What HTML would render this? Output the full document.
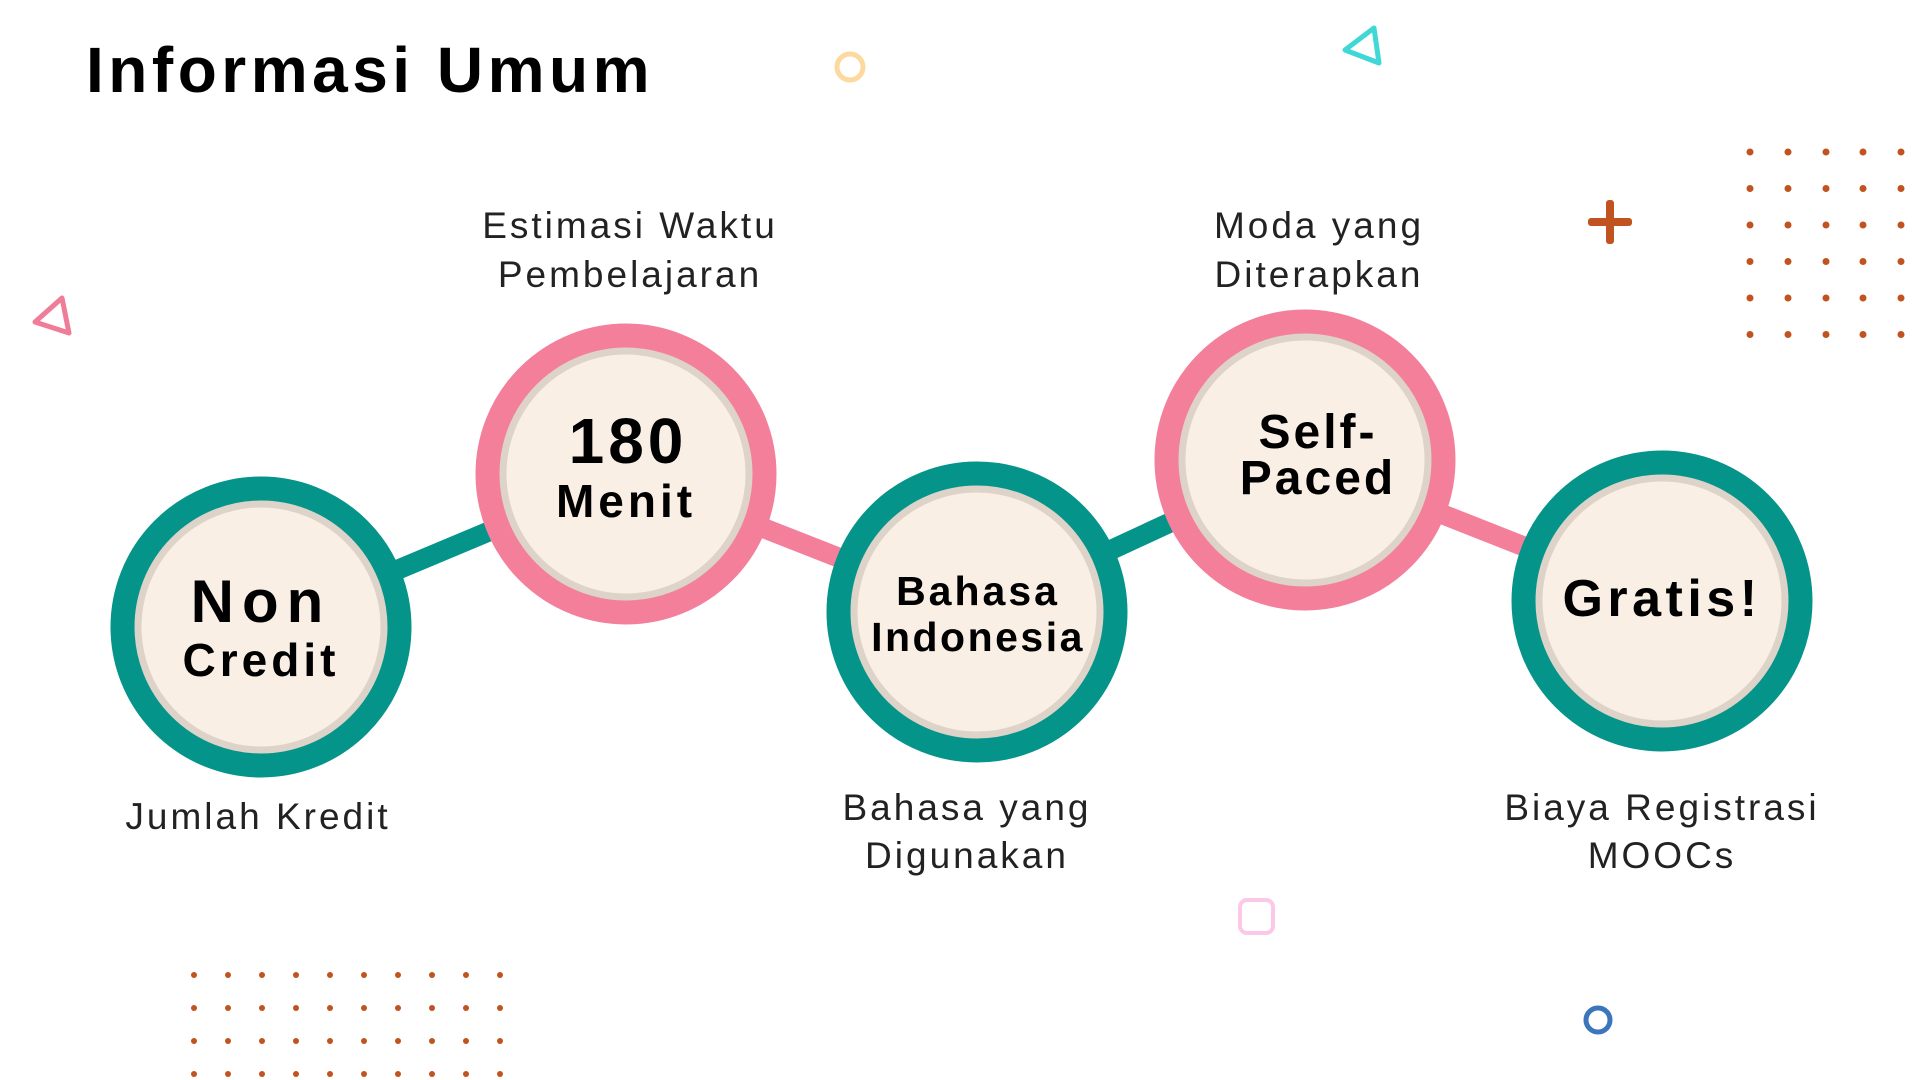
<!DOCTYPE html>
<html><head><meta charset="utf-8"><style>
html,body{margin:0;padding:0;background:#fff;}
svg{display:block}
.t{font-family:"Liberation Sans",sans-serif;}
</style></head><body>
<svg width="1920" height="1080" viewBox="0 0 1920 1080" xmlns="http://www.w3.org/2000/svg">
<rect width="1920" height="1080" fill="#fff"/>
<text x="86" y="92" class="t" font-size="64" font-weight="bold" fill="#000" letter-spacing="4.5">Informasi Umum</text>
<!-- decorations -->
<circle cx="850" cy="67" r="13" fill="none" stroke="#fdd9a0" stroke-width="5"/>
<polygon points="1374,28 1379,63 1345,50" fill="none" stroke="#3fd8d6" stroke-width="5" stroke-linejoin="round"/>
<polygon points="62,298 69,333 35,322" fill="none" stroke="#f07d98" stroke-width="5" stroke-linejoin="round"/>
<rect x="1606" y="200" width="8" height="44" rx="3" fill="#c0531f"/>
<rect x="1588" y="218" width="44" height="8" rx="3" fill="#c0531f"/>
<rect x="1240" y="900" width="33" height="33" rx="7" fill="none" stroke="#fcc8e8" stroke-width="4"/>
<circle cx="1598" cy="1020" r="12" fill="none" stroke="#3b75bb" stroke-width="5"/>
<g fill="#c0531f">
<g id="dr">
<circle cx="1750" cy="152" r="3.5"/><circle cx="1788" cy="152" r="3.5"/><circle cx="1826" cy="152" r="3.5"/><circle cx="1863" cy="152" r="3.5"/><circle cx="1901" cy="152" r="3.5"/>
</g>
<use href="#dr" y="36.5"/><use href="#dr" y="73"/><use href="#dr" y="109.5"/><use href="#dr" y="146"/><use href="#dr" y="182.5"/>
<g id="db">
<circle cx="194" cy="975" r="3"/><circle cx="228" cy="975" r="3"/><circle cx="262" cy="975" r="3"/><circle cx="296" cy="975" r="3"/><circle cx="330" cy="975" r="3"/><circle cx="364" cy="975" r="3"/><circle cx="398" cy="975" r="3"/><circle cx="432" cy="975" r="3"/><circle cx="466" cy="975" r="3"/><circle cx="500" cy="975" r="3"/>
</g>
<use href="#db" y="33"/><use href="#db" y="66"/><use href="#db" y="99"/>
</g>
<!-- connectors -->
<line x1="261" y1="627" x2="626" y2="474" stroke="#05948a" stroke-width="20"/>
<line x1="626" y1="474" x2="977" y2="612" stroke="#f47f9b" stroke-width="20"/>
<line x1="977" y1="612" x2="1305" y2="460" stroke="#05948a" stroke-width="20"/>
<line x1="1305" y1="460" x2="1662" y2="601" stroke="#f47f9b" stroke-width="20"/>
<!-- circles -->
<g stroke-width="25">
<circle cx="261" cy="627" r="138" fill="#05948a" stroke="#05948a"/>
<circle cx="626" cy="474" r="138" fill="#f47f9b" stroke="#f47f9b"/>
<circle cx="977" cy="612" r="138" fill="#05948a" stroke="#05948a"/>
<circle cx="1305" cy="460" r="138" fill="#f47f9b" stroke="#f47f9b"/>
<circle cx="1662" cy="601" r="138" fill="#05948a" stroke="#05948a"/>
</g>
<g fill="#f9efe5" stroke="#ddd3c8" stroke-width="7">
<circle cx="261" cy="627" r="123"/>
<circle cx="626" cy="474" r="123"/>
<circle cx="977" cy="612" r="123"/>
<circle cx="1305" cy="460" r="123"/>
<circle cx="1662" cy="601" r="123"/>
</g>
<g class="t" font-weight="bold" fill="#000" text-anchor="middle">
<text x="261" y="622" font-size="60" letter-spacing="8">Non</text>
<text x="261" y="676" font-size="46" letter-spacing="4">Credit</text>
<text x="628" y="463" font-size="64" letter-spacing="4">180</text>
<text x="626" y="517" font-size="46" letter-spacing="4">Menit</text>
<text x="978" y="605" font-size="41" letter-spacing="3">Bahasa</text>
<text x="978" y="651" font-size="41" letter-spacing="2.5">Indonesia</text>
<text x="1318" y="448" font-size="48" letter-spacing="3">Self-</text>
<text x="1318" y="494" font-size="48" letter-spacing="3">Paced</text>
<text x="1662" y="616" font-size="52" letter-spacing="4.5">Gratis!</text>
</g>
<g class="t" font-size="37" fill="#222" text-anchor="middle" letter-spacing="3">
<text x="630" y="238">Estimasi Waktu</text>
<text x="630" y="287">Pembelajaran</text>
<text x="1319" y="238">Moda yang</text>
<text x="1319" y="287">Diterapkan</text>
<text x="258" y="829">Jumlah Kredit</text>
<text x="967" y="820">Bahasa yang</text>
<text x="967" y="868">Digunakan</text>
<text x="1662" y="820">Biaya Registrasi</text>
<text x="1662" y="868">MOOCs</text>
</g>
</svg>
</body></html>
